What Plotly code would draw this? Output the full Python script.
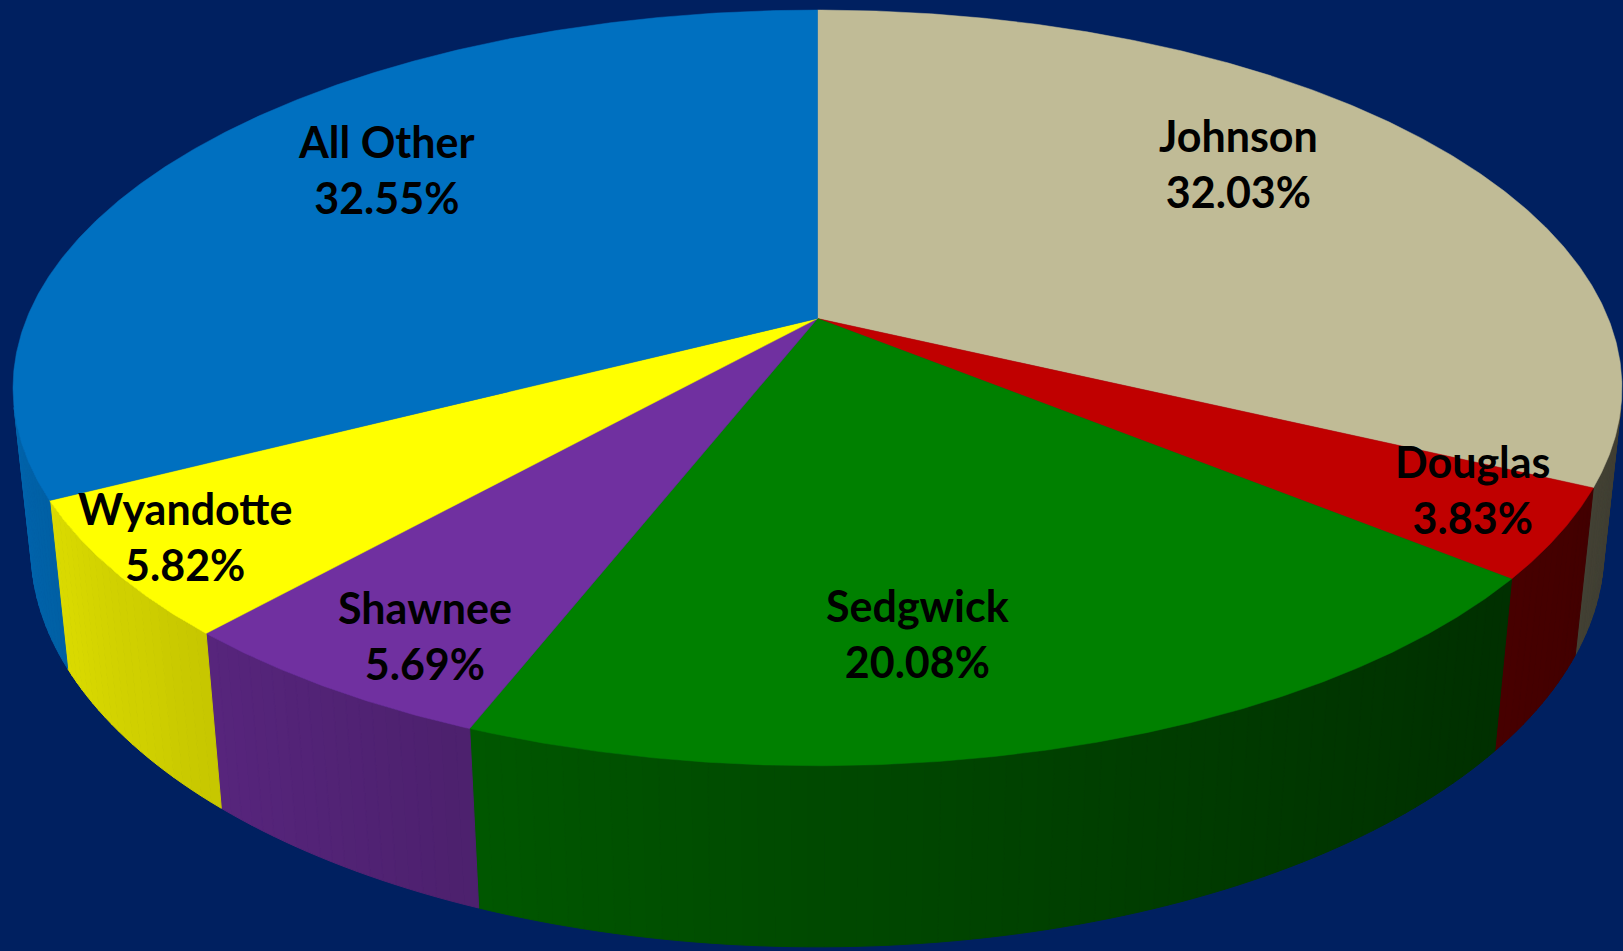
import math
import numpy as np
import plotly.graph_objects as go

# ---- data ----
counties = ["Johnson", "Douglas", "Sedgwick", "Shawnee", "Wyandotte", "All Other"]
shares = [32.03, 3.83, 20.08, 5.69, 5.82, 32.55]

# ---- style ----
slice_colors = ["#C0BB96", "#C00000", "#008000", "#7030A0", "#FFFF00", "#0070C0"]
BG = "#002060"
W, H_PX = 1623, 951
# label centres as pixel offsets from the pie apex
label_offsets = [(421, -155), (655, 171), (100, 315), (-393, 317), (-633, 218), (-431, -149)]

# ---- 3D perspective pie geometry ----
PHI = math.asin(0.4617)      # viewing elevation
DIST = 4.83                  # camera distance (in pie radii)
THICK = 0.2305               # slab thickness (in pie radii)
CX, CY = 817.5, 318.5        # apex on screen
KS = 790.8 * DIST


def proj(theta_deg, r, w):
    th = np.radians(theta_deg)
    u = r * np.sin(th)
    v = r * np.cos(th)
    z = DIST + v * math.cos(PHI) - w * math.sin(PHI)
    y = v * math.sin(PHI) + w * math.cos(PHI)
    return CX + KS * u / z, CY - KS * y / z


def hex_to_rgb(h):
    h = h.lstrip("#")
    return [int(h[i:i + 2], 16) for i in (0, 2, 4)]


def shade(hexcol, theta_mid):
    b = 0.628 + 0.29 * math.cos(math.radians(theta_mid - 280))
    r, g, bb = hex_to_rgb(hexcol)
    return "rgb(%d,%d,%d)" % (min(255, r * b), min(255, g * b), min(255, bb * b))


fig = go.Figure()

bounds = np.concatenate([[0], np.cumsum(shares)]) / sum(shares) * 360.0
vis_lo = math.degrees(math.acos(-1.0 / (DIST * math.cos(PHI))))
vis_hi = 360.0 - vis_lo

# sides (front, visible part) with angular shading
for i, name in enumerate(counties):
    a0, a1 = bounds[i], bounds[i + 1]
    s0, s1 = max(a0, vis_lo), min(a1, vis_hi)
    if s1 <= s0:
        continue
    n = max(1, int(math.ceil((s1 - s0) / 1.0)))
    edges = np.linspace(s0, s1, n + 1)
    for j in range(n):
        th = np.linspace(edges[j], edges[j + 1], 4)
        xt, yt = proj(th, 1.0, 0.0)
        xb, yb = proj(th[::-1], 1.0, -THICK)
        xs = np.concatenate([xt, xb, xt[:1]])
        ys = np.concatenate([yt, yb, yt[:1]])
        col = shade(slice_colors[i], 0.5 * (edges[j] + edges[j + 1]))
        fig.add_trace(go.Scatter(x=xs, y=ys, mode="lines", fill="toself",
                                 fillcolor=col, line=dict(color=col, width=1),
                                 hoverinfo="skip", showlegend=False))

# top faces
for i, name in enumerate(counties):
    a0, a1 = bounds[i], bounds[i + 1]
    th = np.linspace(a0, a1, max(8, int((a1 - a0) * 3)))
    xa, ya = proj(th, 1.0, 0.0)
    xs = np.concatenate([[CX], xa, [CX]])
    ys = np.concatenate([[CY], ya, [CY]])
    fig.add_trace(go.Scatter(x=xs, y=ys, mode="lines", fill="toself",
                             fillcolor=slice_colors[i],
                             line=dict(color=slice_colors[i], width=0.5),
                             hoverinfo="skip", showlegend=False, name=name))

# labels
for i, name in enumerate(counties):
    dx, dy = label_offsets[i]
    fig.add_annotation(x=CX + dx, y=CY + dy, xref="x", yref="y",
                       text=f"{name}<br>{shares[i]:.2f}%", showarrow=False,
                       font=dict(family="Lato", size=43, color="black", weight="bold"),
                       xanchor="center", yanchor="middle", align="center")

fig.update_layout(
    width=W, height=H_PX,
    margin=dict(l=0, r=0, t=0, b=0),
    paper_bgcolor=BG, plot_bgcolor=BG,
    xaxis=dict(range=[0, W], visible=False, fixedrange=True),
    yaxis=dict(range=[H_PX, 0], visible=False, fixedrange=True),
    showlegend=False,
)

fig.write_html(
    "out.html",
    config={"displayModeBar": False},
    post_script="document.body.style.margin='0';document.body.style.overflow='hidden';"
                "document.body.style.background='" + BG + "';",
)
